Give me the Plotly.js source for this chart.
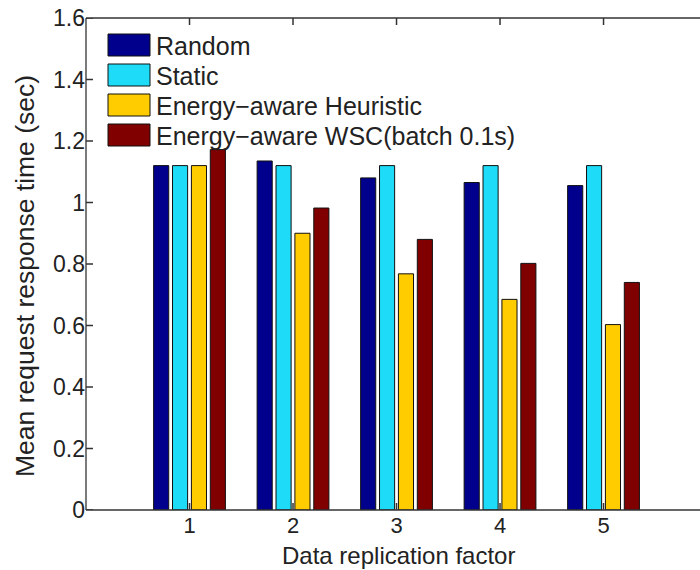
<!DOCTYPE html>
<html>
<head>
<meta charset="utf-8">
<script src="https://cdn.plot.ly/plotly-3.0.1.min.js"></script>
<style>
html, body { margin: 0; padding: 0; overflow: hidden; background: #fff; }
#chart { width: 700px; height: 570px; }
</style>
</head>
<body>
<div id="chart"></div>
<script>
// Data
const categories = [1, 2, 3, 4, 5];
const seriesNames = ["Random", "Static", "Energy\u2212aware Heuristic", "Energy\u2212aware WSC(batch 0.1s)"];
const randomVals    = [1.12, 1.135, 1.08, 1.065, 1.055];
const staticVals    = [1.12, 1.12, 1.12, 1.12, 1.12];
const heuristicVals = [1.12, 0.90, 0.768, 0.685, 0.603];
const wscVals       = [1.172, 0.982, 0.880, 0.802, 0.740];
const seriesColors  = ["#00008C", "#1EDCF7", "#FFCC00", "#800000"];
const yTicks = [0, 0.2, 0.4, 0.6, 0.8, 1, 1.2, 1.4, 1.6];
const xTitle = "Data replication factor";
const yTitle = "Mean request response time (sec)";

const allVals = [randomVals, staticVals, heuristicVals, wscVals];
const FONT = "Liberation Sans, Arial, Helvetica, sans-serif";
const TXT = "#222";
const AX = "#333";

const traces = allVals.map((vals, i) => ({
  type: "bar",
  x: categories,
  y: vals,
  name: seriesNames[i],
  marker: { color: seriesColors[i], line: { color: "#111", width: 1 } },
  showlegend: false,
  hoverinfo: "x+y+name"
}));

const shapes = [];
const annotations = [];
const plotL = 86, plotR = 700, plotT = 18, plotB = 510;
const px = v => (v - plotL) / (plotR - plotL);
const py = v => (plotB - v) / (plotB - plotT);
const TL = 7; // tick length in px

// white strip at the cropped right edge (the reference shows no right border)
shapes.push({ type: "rect", xref: "paper", yref: "paper", x0: px(690), x1: 1.01, y0: py(508), y1: py(20),
  fillcolor: "#fff", line: { width: 0 }, layer: "above" });

// Axes frame (left, top, bottom) drawn as paper-referenced lines
[
  { x0: 0, x1: 0, y0: 0, y1: 1 },
  { x0: 0, x1: 1, y0: 1, y1: 1 },
  { x0: 0, x1: 1, y0: 0, y1: 0 }
].forEach(s => shapes.push(Object.assign({ type: "line", xref: "paper", yref: "paper", line: { color: AX, width: 1.3 }, layer: "above" }, s)));

// Inside tick marks at the axis tick values
categories.forEach(c => {
  shapes.push({ type: "line", xref: "x", yref: "paper", x0: c, x1: c, y0: 0, y1: TL / (plotB - plotT), line: { color: AX, width: 1.5 }, layer: "above" });
  shapes.push({ type: "line", xref: "x", yref: "paper", x0: c, x1: c, y0: 1, y1: 1 - TL / (plotB - plotT), line: { color: AX, width: 1.5 }, layer: "above" });
});
yTicks.forEach(t => {
  shapes.push({ type: "line", xref: "paper", yref: "y", x0: 0, x1: TL / (plotR - plotL), y0: t, y1: t, line: { color: AX, width: 1.5 }, layer: "above" });
});

// Custom legend (large swatches, like the MATLAB legend)
seriesNames.forEach((name, i) => {
  const cy = 45 + 30 * i;
  shapes.push({
    type: "rect", xref: "paper", yref: "paper",
    x0: px(108), x1: px(150), y0: py(cy + 11), y1: py(cy - 11),
    fillcolor: seriesColors[i], line: { color: "#111", width: 1 }
  });
  annotations.push({
    xref: "paper", yref: "paper", x: px(154), y: py(cy + 1),
    xanchor: "left", yanchor: "middle", showarrow: false,
    text: name, font: { family: FONT, size: 25, color: TXT }
  });
});

// Axis titles
annotations.push({
  xref: "paper", yref: "paper", x: px(398), y: py(555),
  xanchor: "center", yanchor: "middle", showarrow: false,
  text: xTitle, font: { family: FONT, size: 24, color: TXT }
});
annotations.push({
  xref: "paper", yref: "paper", x: px(25), y: py(276),
  xanchor: "center", yanchor: "middle", showarrow: false, textangle: -90,
  text: yTitle, font: { family: FONT, size: 26.5, color: TXT }
});

const layout = {
  width: 700, height: 570,
  margin: { l: plotL, r: 0, t: plotT, b: 570 - plotB },
  paper_bgcolor: "#fff", plot_bgcolor: "#fff",
  barmode: "group", bargap: 0.27, bargroupgap: 0.2,
  showlegend: false,
  font: { family: FONT, size: 22, color: TXT },
  xaxis: {
    range: [0, 5.932], tickvals: categories, ticktext: categories.map(String),
    showgrid: false, zeroline: false, showline: false, ticks: "",
    tickfont: { family: FONT, size: 22, color: TXT }
  },
  yaxis: {
    range: [0, 1.6], tickvals: yTicks, ticktext: yTicks.map(String),
    showgrid: false, zeroline: false, showline: false, ticks: "",
    tickfont: { family: FONT, size: 23, color: TXT }
  },
  shapes: shapes,
  annotations: annotations
};

Plotly.newPlot("chart", traces, layout, { displayModeBar: false, staticPlot: true });
</script>
</body>
</html>
